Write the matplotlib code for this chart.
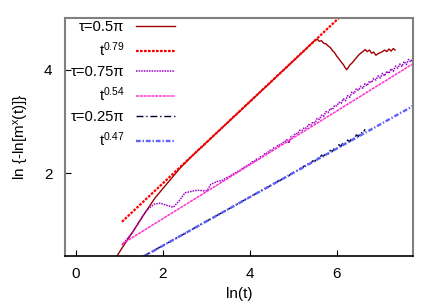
import matplotlib
matplotlib.use('Agg')
import matplotlib.pyplot as plt

plt.rcParams['font.family'] = ['Liberation Sans', 'DejaVu Sans']
plt.rcParams['mathtext.fontset'] = 'custom'
plt.rcParams['mathtext.rm'] = 'Liberation Sans'
plt.rcParams['mathtext.it'] = 'Liberation Sans:italic'

# tau = 0.5 pi
red_x = [0.94, 1.06, 1.29, 1.45, 1.62, 1.82, 2.0, 2.2, 2.4, 2.67, 3.0, 3.5, 4.0, 4.5, 5.0, 5.3,
         5.50, 5.55, 5.60, 5.65, 5.70, 5.75, 5.80, 5.85, 5.90, 5.95, 6.00, 6.05, 6.10, 6.15, 6.20,
         6.23, 6.27, 6.30, 6.35, 6.40, 6.45, 6.50, 6.55, 6.60, 6.65, 6.70, 6.75, 6.80, 6.85, 6.90,
         6.95, 7.00, 7.05, 7.10, 7.15, 7.20, 7.25, 7.30, 7.34]
red_y = [0.39, 0.55, 0.84, 1.05, 1.27, 1.52, 1.70, 1.90, 2.10, 2.33, 2.59, 2.985, 3.38, 3.775, 4.17, 4.41,
         4.57, 4.59, 4.55, 4.56, 4.51, 4.50, 4.46, 4.43, 4.37, 4.33, 4.26, 4.21, 4.15, 4.10, 4.03,
         4.00, 4.05, 4.09, 4.13, 4.18, 4.23, 4.28, 4.32, 4.35, 4.39, 4.35, 4.38, 4.32, 4.34, 4.28,
         4.31, 4.33, 4.35, 4.38, 4.35, 4.40, 4.36, 4.41, 4.38]

# tau = 0.75 pi
purple_x = [1.06, 1.15, 1.29, 1.45, 1.55, 1.65, 1.80, 1.94, 2.08, 2.24, 2.38, 2.51, 2.67, 2.80, 2.93, 3.02,
            3.10, 3.20, 3.25, 3.30, 3.35, 3.40, 3.45, 3.50, 3.55, 3.60, 3.65, 3.70, 3.75, 3.80, 3.85,
            3.90, 3.95, 4.00, 4.05, 4.10, 4.15, 4.20, 4.25, 4.30, 4.35, 4.40, 4.45, 4.50, 4.55, 4.60,
            4.65, 4.70, 4.75, 4.80, 4.85, 4.90, 4.95, 5.00, 5.05, 5.10, 5.15, 5.20, 5.25, 5.30, 5.35,
            5.40, 5.45, 5.50, 5.55, 5.60, 5.65, 5.70, 5.75, 5.80, 5.85, 5.90, 5.95, 6.00, 6.05, 6.10,
            6.15, 6.20, 6.25, 6.30, 6.35, 6.40, 6.45, 6.50, 6.55, 6.60, 6.65, 6.70, 6.75, 6.80, 6.85,
            6.90, 6.95, 7.00, 7.05, 7.10, 7.15, 7.20, 7.25, 7.30, 7.35, 7.40, 7.45, 7.50, 7.55, 7.60,
            7.65, 7.70, 7.75, 7.80]
purple_y = [0.61, 0.70, 0.84, 1.05, 1.19, 1.30, 1.40, 1.42, 1.38, 1.34, 1.47, 1.62, 1.65, 1.67, 1.66, 1.66,
            1.78, 1.82, 1.84, 1.85, 1.85, 1.88, 1.90, 1.93, 1.94, 1.98, 1.99, 2.03, 2.04, 2.07, 2.11,
            2.12, 2.16, 2.17, 2.22, 2.22, 2.27, 2.27, 2.32, 2.33, 2.39, 2.38, 2.44, 2.43, 2.49, 2.48,
            2.55, 2.54, 2.59, 2.60, 2.65, 2.58, 2.71, 2.71, 2.77, 2.76, 2.83, 2.82, 2.88, 2.87, 2.94,
            2.92, 2.99, 2.97, 3.06, 3.04, 3.12, 3.10, 3.19, 3.17, 3.25, 3.23, 3.31, 3.30, 3.37, 3.35,
            3.44, 3.40, 3.50, 3.47, 3.57, 3.54, 3.63, 3.60, 3.68, 3.64, 3.73, 3.69, 3.78, 3.75, 3.83,
            3.80, 3.88, 3.84, 3.93, 3.88, 3.97, 3.93, 4.02, 3.97, 4.07, 4.03, 4.11, 4.06, 4.16, 4.10,
            4.20, 4.15, 4.23, 4.20]

# tau = 0.25 pi
black_x = [1.55, 2.0, 2.5, 3.0, 3.5, 4.0, 4.5, 4.55, 4.60, 4.65, 4.70, 4.75, 4.80, 4.85, 4.90, 4.95,
           5.00, 5.05, 5.10, 5.15, 5.20, 5.25, 5.30, 5.35, 5.40, 5.45, 5.50, 5.55, 5.60, 5.65, 5.70,
           5.75, 5.80, 5.85, 5.90, 5.95, 6.00, 6.05, 6.10, 6.15, 6.20, 6.25, 6.30, 6.35, 6.40, 6.45,
           6.50, 6.55, 6.60, 6.65]
black_y = [0.39, 0.60, 0.83, 1.07, 1.30, 1.54, 1.77, 1.80, 1.81, 1.85, 1.86, 1.89, 1.90, 1.94, 1.95, 1.99,
           2.01, 2.05, 2.05, 2.09, 2.09, 2.14, 2.14, 2.19, 2.19, 2.24, 2.23, 2.30, 2.28, 2.35, 2.33,
           2.39, 2.37, 2.44, 2.42, 2.49, 2.47, 2.55, 2.52, 2.60, 2.57, 2.64, 2.61, 2.69, 2.66, 2.74,
           2.71, 2.79, 2.77, 2.85]

# power law fits (straight lines in log-log), end points
fit079_x = [1.06, 6.2]
fit079_y = [1.06, 5.12]
fit054_x = [1.06, 7.8]
fit054_y = [0.63, 4.14]
fit047_x = [1.55, 7.8]
fit047_y = [0.385, 3.32]

fig = plt.figure(figsize=(4.36, 3.05), dpi=100)
ax = fig.add_axes([0.149, 0.161, 0.798, 0.78])

ax.plot(red_x, red_y, color='#a00000', lw=1.0, label=r'τ=0.5π')
ax.plot(fit079_x, fit079_y, color='#ff0000', lw=1.6, ls=(0, (1.2, 0.6)), label=r't$^{0.79}$')
ax.plot(purple_x, purple_y, color='#9a00cc', lw=1.1, ls=(0, (1, 0.7)), label=r'τ=0.75π')
ax.plot(fit054_x, fit054_y, color='#ff33cc', lw=1.1, ls=(0, (2, 0.5)), label=r't$^{0.54}$')
ax.plot(black_x, black_y, color='#000033', lw=1.0, ls=(0, (5, 2, 1, 2)), label=r'τ=0.25π')
ax.plot(fit047_x, fit047_y, color='#6060ff', lw=1.7, ls=(0, (2, 0.8, 0.6, 0.8)), label=r't$^{0.47}$')

ax.set_xlim(-0.25, 7.75)
ax.set_ylim(0.4, 5.0)
ax.set_xticks([0, 2, 4, 6])
ax.set_yticks([2, 4])
ax.tick_params(direction='in', length=4, labelsize=11, pad=8)
ax.tick_params(axis='y', pad=9)

for side in ['left', 'top', 'right']:
    ax.spines[side].set_color('#808080')
    ax.spines[side].set_linewidth(1.5)
ax.spines['bottom'].set_color('black')
ax.spines['bottom'].set_linewidth(1.2)

ax.set_xlabel('ln(t)', fontsize=11, labelpad=4)
ax.set_ylabel(r'ln {-ln[m$^{\mathrm{x}}$(t)]}', fontsize=11, labelpad=9)

ax.legend(loc='upper left', frameon=False, markerfirst=False, fontsize=10.6,
          handlelength=2.7, handletextpad=0.75, labelspacing=0.42,
          borderaxespad=0.0, bbox_to_anchor=(0.0, 1.015))

fig.savefig('out.png', dpi=100)
